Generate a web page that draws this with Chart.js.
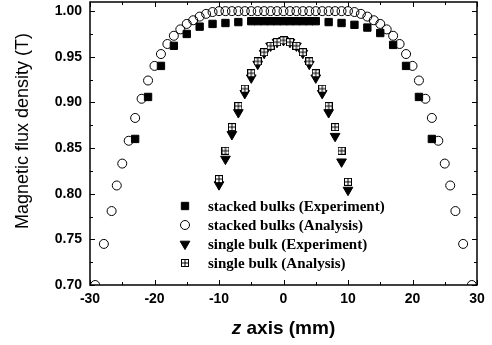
<!DOCTYPE html>
<html>
<head>
<meta charset="utf-8">
<script src="https://cdn.jsdelivr.net/npm/chart.js@4.4.1/dist/chart.umd.min.js"></script>
<style>
html, body { margin: 0; padding: 0; background: #fff; }
</style>
</head>
<body>
<canvas id="fluxChart" width="492" height="345"></canvas>
<script>
// z position (mm) and flux density (T)
const stackedExpZ = [-23, -21, -19, -17, -15, -13, -11, -9, -7, -5, -4, -3, -2, -1, 0, 1, 2, 3, 4, 5, 7, 9, 11, 13, 15, 17, 19, 21, 23];
const stackedExpB = [0.860, 0.906, 0.940, 0.962, 0.975, 0.983, 0.986, 0.987, 0.988, 0.989, 0.989, 0.989, 0.989, 0.989, 0.989, 0.989, 0.989, 0.989, 0.989, 0.989, 0.988, 0.987, 0.985, 0.982, 0.976, 0.963, 0.940, 0.906, 0.860];

const stackedAnaZ = [-29.2, -27.85, -26.65, -25.85, -25, -24, -23, -22, -21, -20, -19, -18, -17, -16, -15, -14, -13, -12, -11,
    -10, -9, -8, -7, -6, -5, -4, -3, -2, -1, 0, 1, 2, 3, 4, 5, 6, 7, 8, 9, 10,
    11, 12, 13, 14, 15, 16, 17, 18, 19, 20, 21, 22, 23, 24, 25, 25.85, 26.65, 27.85, 29.2];
const stackedAnaB = [0.700, 0.745, 0.781, 0.809, 0.833, 0.858, 0.883, 0.904, 0.924, 0.940, 0.953, 0.964, 0.973, 0.980, 0.986, 0.990, 0.994, 0.997, 0.999,
    1.000, 1.000, 1.000, 1.000, 1.000, 1.000, 1.000, 1.000, 1.000, 1.000, 1.000, 1.000, 1.000, 1.000, 1.000, 1.000, 1.000, 1.000, 1.000, 1.000, 1.000,
    0.999, 0.997, 0.994, 0.990, 0.986, 0.980, 0.973, 0.964, 0.953, 0.940, 0.924, 0.904, 0.883, 0.858, 0.833, 0.809, 0.781, 0.745, 0.700];

const singleZ = [-10, -9, -8, -7, -6, -5, -4, -3, -2, -1, 0, 1, 2, 3, 4, 5, 6, 7, 8, 9, 10];
const singleExpB = [0.810, 0.838, 0.865, 0.889, 0.910, 0.927, 0.942, 0.954, 0.962, 0.966, 0.968, 0.966, 0.962, 0.954, 0.942, 0.927, 0.910, 0.889, 0.863, 0.835, 0.804];
const singleAnaB = [0.816, 0.847, 0.873, 0.896, 0.915, 0.932, 0.945, 0.955, 0.962, 0.966, 0.968, 0.966, 0.962, 0.955, 0.945, 0.932, 0.915, 0.896, 0.873, 0.847, 0.813];

const seriesLabels = ['stacked bulks (Experiment)', 'stacked bulks (Analysis)', 'single bulk (Experiment)', 'single bulk (Analysis)'];

const xMin = -30, xMax = 30, xStep = 10;
const yMin = 0.70, yMax = 1.01, yStep = 0.05;

function toPoints(zs, bs) {
    return zs.map((z, i) => ({x: z, y: bs[i]}));
}

// square with a cross inside, used as marker
function makeGridBox() {
    const c = document.createElement('canvas');
    c.width = 8;
    c.height = 8;
    const g = c.getContext('2d');
    g.fillStyle = '#fff';
    g.fillRect(0, 0, 8, 8);
    g.strokeStyle = '#000';
    g.lineWidth = 1;
    g.strokeRect(0.5, 0.5, 7, 7);
    g.beginPath();
    g.moveTo(4, 0.5); g.lineTo(4, 7.5);
    g.moveTo(0.5, 4); g.lineTo(7.5, 4);
    g.stroke();
    return c;
}

// frame, inward ticks, axis titles and legend drawn on top
const decorPlugin = {
    id: 'decor',
    afterDraw(chart) {
        const ctx = chart.ctx;
        const a = chart.chartArea;
        const xs = chart.scales.x, ys = chart.scales.y;
        ctx.save();
        ctx.strokeStyle = '#000';
        ctx.lineWidth = 1.5;
        ctx.strokeRect(a.left, a.top, a.right - a.left, a.bottom - a.top);

        ctx.lineWidth = 1;
        ctx.beginPath();
        const xt = xs.ticks.map(t => t.value);
        xt.forEach((v, i) => {
            const px = Math.round(xs.getPixelForValue(v)) + 0.5;
            ctx.moveTo(px, a.bottom); ctx.lineTo(px, a.bottom - 5);
            ctx.moveTo(px, a.top); ctx.lineTo(px, a.top + 5);
            if (i < xt.length - 1) {
                const pm = Math.round(xs.getPixelForValue((v + xt[i + 1]) / 2)) + 0.5;
                ctx.moveTo(pm, a.bottom); ctx.lineTo(pm, a.bottom - 3);
                ctx.moveTo(pm, a.top); ctx.lineTo(pm, a.top + 3);
            }
        });
        const yt = ys.ticks.map(t => t.value);
        yt.forEach((v, i) => {
            const py = Math.round(ys.getPixelForValue(v)) + 0.5;
            ctx.moveTo(a.left, py); ctx.lineTo(a.left + 5, py);
            ctx.moveTo(a.right, py); ctx.lineTo(a.right - 5, py);
            if (i < yt.length - 1) {
                const pm = Math.round(ys.getPixelForValue((v + yt[i + 1]) / 2)) + 0.5;
                ctx.moveTo(a.left, pm); ctx.lineTo(a.left + 3, pm);
                ctx.moveTo(a.right, pm); ctx.lineTo(a.right - 3, pm);
            }
        });
        ctx.stroke();

        // x title with italic z
        ctx.fillStyle = '#000';
        ctx.textBaseline = 'alphabetic';
        ctx.textAlign = 'left';
        const f1 = 'italic bold 19px "Liberation Sans", Arial, sans-serif';
        const f2 = 'bold 19px "Liberation Sans", Arial, sans-serif';
        ctx.font = f1;
        const w1 = ctx.measureText('z').width;
        ctx.font = f2;
        const w2 = ctx.measureText(' axis (mm)').width;
        let tx = (a.left + a.right) / 2 - (w1 + w2) / 2;
        ctx.font = f1;
        ctx.fillText('z', tx, 334);
        ctx.font = f2;
        ctx.fillText(' axis (mm)', tx + w1, 334);

        // y title
        ctx.save();
        ctx.translate(28, 131);
        ctx.rotate(-Math.PI / 2);
        ctx.textAlign = 'center';
        ctx.font = '18px "Liberation Sans", Arial, sans-serif';
        ctx.fillText('Magnetic flux density (T)', 0, 0);
        ctx.restore();

        // legend
        ctx.font = 'bold 15px "Liberation Serif", "Times New Roman", serif';
        ctx.textBaseline = 'middle';
        ctx.textAlign = 'left';
        chart.data.datasets.forEach((ds, i) => {
            const ly = 206 + i * 19;
            ctx.fillStyle = ds.pointBackgroundColor;
            ctx.strokeStyle = ds.pointBorderColor;
            ctx.lineWidth = ds.pointBorderWidth;
            Chart.helpers.drawPoint(ctx, {
                pointStyle: ds.pointStyle,
                rotation: ds.pointRotation || 0,
                radius: ds.pointRadius,
                borderWidth: ds.pointBorderWidth
            }, 185, ly);
            ctx.fillStyle = '#000';
            ctx.fillText(ds.label, 208, ly + 1);
        });
        ctx.restore();
    }
};

const tickFont = {family: '"Liberation Sans", Arial, sans-serif', size: 14, weight: 'bold'};

new Chart(document.getElementById('fluxChart'), {
    type: 'scatter',
    data: {
        datasets: [
            {
                label: seriesLabels[0],
                data: toPoints(stackedExpZ, stackedExpB),
                pointStyle: 'rect',
                pointRadius: 5.2,
                pointBackgroundColor: '#000',
                pointBorderColor: '#000',
                pointBorderWidth: 1,
                order: 1,
                clip: 0
            },
            {
                label: seriesLabels[1],
                data: toPoints(stackedAnaZ, stackedAnaB),
                pointStyle: 'circle',
                pointRadius: 4.5,
                pointBackgroundColor: 'rgba(0,0,0,0)',
                pointBorderColor: '#000',
                pointBorderWidth: 1,
                order: 2,
                clip: 0
            },
            {
                label: seriesLabels[2],
                data: toPoints(singleZ, singleExpB),
                pointStyle: 'triangle',
                pointRotation: 180,
                pointRadius: 5.6,
                pointBackgroundColor: '#000',
                pointBorderColor: '#000',
                pointBorderWidth: 1,
                order: 4,
                clip: 0
            },
            {
                label: seriesLabels[3],
                data: toPoints(singleZ, singleAnaB),
                pointStyle: makeGridBox(),
                pointRadius: 4,
                pointBackgroundColor: '#fff',
                pointBorderColor: '#000',
                pointBorderWidth: 1,
                order: 3,
                clip: 0
            }
        ]
    },
    options: {
        responsive: false,
        animation: false,
        events: [],
        layout: {autoPadding: false, padding: {top: 2, right: 15, left: 0, bottom: 0}},
        plugins: {
            legend: {display: false},
            tooltip: {enabled: false}
        },
        scales: {
            x: {
                type: 'linear',
                min: xMin,
                max: xMax,
                grid: {display: false, drawTicks: false},
                border: {display: false},
                ticks: {stepSize: xStep, color: '#000', font: tickFont, padding: 6, maxRotation: 0},
                afterFit(scale) {
                    scale.height = 60;
                    scale.paddingLeft = 0;
                    scale.paddingRight = 0;
                }
            },
            y: {
                type: 'linear',
                min: yMin,
                max: yMax,
                grid: {display: false, drawTicks: false},
                border: {display: false},
                ticks: {
                    stepSize: yStep,
                    includeBounds: false,
                    color: '#000',
                    font: tickFont,
                    padding: 8,
                    callback: v => v.toFixed(2)
                },
                afterFit(scale) {
                    scale.width = 90;
                    scale.paddingTop = 0;
                    scale.paddingBottom = 0;
                }
            }
        }
    },
    plugins: [decorPlugin]
});
</script>
</body>
</html>
